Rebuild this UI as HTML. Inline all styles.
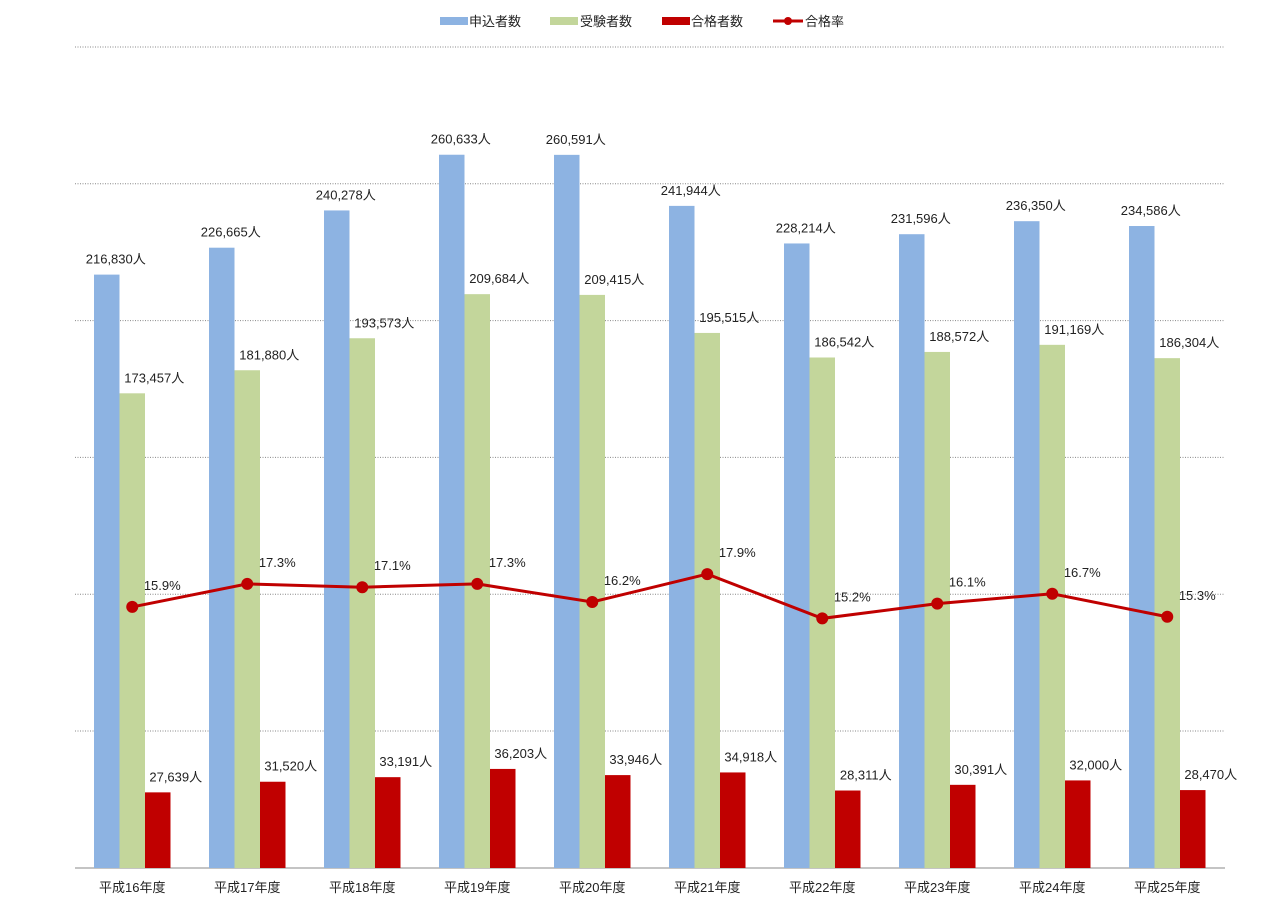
<!DOCTYPE html>
<html><head><meta charset="utf-8"><style>
body{margin:0;background:#fff}
svg text{font-family:"Liberation Sans","Noto Sans CJK JP",sans-serif;font-size:13px;fill:#222}
</style></head><body>
<svg id="c" width="1284" height="906" xmlns="http://www.w3.org/2000/svg"></svg>
<script>
const s=document.getElementById('c');
let h='';
h+='<rect x="440" y="17" width="28" height="8" fill="#8db3e2"/><text x="469" y="26">申込者数</text>';
h+='<rect x="550" y="17" width="28" height="8" fill="#c3d69b"/><text x="580" y="26">受験者数</text>';
h+='<rect x="662" y="17" width="28" height="8" fill="#c00000"/><text x="691" y="26">合格者数</text>';
h+='<line x1="773" y1="21" x2="803" y2="21" stroke="#c00000" stroke-width="3"/><circle cx="788" cy="21" r="4" fill="#c00000"/><text x="805" y="26">合格率</text>';
for(let i=0;i<6;i++){const y=47+i*136.8;h+=`<line x1="75" x2="1225" y1="${y}" y2="${y}" stroke="#888" stroke-dasharray="1,1.5" stroke-width="1"/>`;}
h+='<line x1="75" x2="1225" y1="868" y2="868" stroke="#888"/>';
const a=[216830,226665,240278,260633,260591,241944,228214,231596,236350,234586];
const b=[173457,181880,193573,209684,209415,195515,186542,188572,191169,186304];
const r=[27639,31520,33191,36203,33946,34918,28311,30391,32000,28470];
const p=[15.9,17.3,17.1,17.3,16.2,17.9,15.2,16.1,16.7,15.3];
const Y=v=>868-v/300000*821, f=v=>v.toLocaleString('en-US')+'人';
let pts=[];
for(let i=0;i<10;i++){
 const x0=75+115*i+19,w=25.5;
 [[a,'#8db3e2',0],[b,'#c3d69b',1],[r,'#c00000',2]].forEach(([d,c,k])=>{
  const x=x0+k*w,y=Y(d[i]);h+=`<rect x="${x}" y="${y}" width="${w}" height="${868-y}" fill="${c}"/>`;
  const lx=k==0?x+w/2+9:(k==1?x+w/2+22:x+w/2+18);
  h+=`<text x="${lx}" y="${y-11}" text-anchor="middle">${f(d[i])}</text>`;
 });
 h+=`<text x="${x0+w*1.5}" y="892" text-anchor="middle">平成${16+i}年度</text>`;
 pts.push([x0+w*1.5,868-p[i]*16.42]);
}
h+=`<polyline points="${pts.map(q=>q.join(',')).join(' ')}" fill="none" stroke="#c00000" stroke-width="3"/>`;
pts.forEach((q,i)=>{h+=`<circle cx="${q[0]}" cy="${q[1]}" r="6" fill="#c00000"/><text x="${q[0]+30}" y="${q[1]-17}" text-anchor="middle">${p[i].toFixed(1)}%</text>`;});
s.innerHTML=h;
</script>
</body></html>
